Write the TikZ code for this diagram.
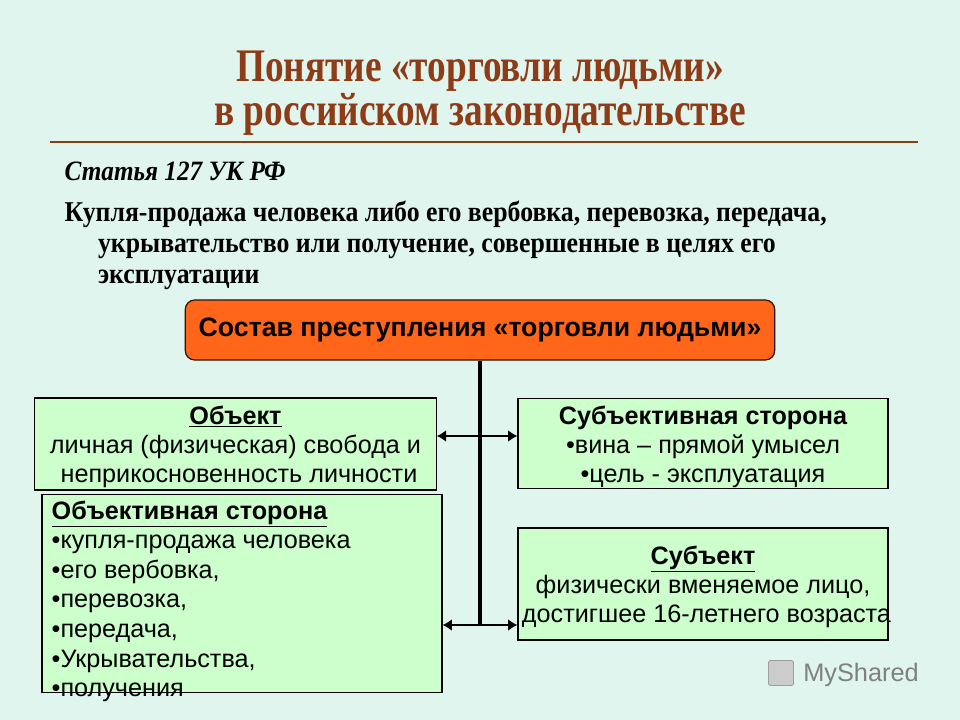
\documentclass[tikz,border=0pt]{standalone}
\usepackage{fontspec}
\setmainfont{Liberation Serif}
\setsansfont{Liberation Sans}
\newfontfamily\cond[FakeStretch=0.8]{Liberation Serif}
\newfontfamily\condb[FakeStretch=0.9]{Liberation Serif}
\usetikzlibrary{arrows.meta}
\definecolor{bg}{HTML}{E0F5EE}
\definecolor{brn}{HTML}{8E3B17}
\definecolor{grn}{HTML}{CCFFCC}
\definecolor{org}{HTML}{FF6619}
\tikzset{
 box/.style={draw=black, fill=grn, line width=0.9pt, inner sep=0pt},
 btxt/.style={font=\sffamily\fontsize{18.9}{21.8}\selectfont, align=center},
 conn/.style={line width=3pt},
 arr/.style={line width=2.2pt, {Latex[length=7pt,width=9pt]}-{Latex[length=7pt,width=9pt]}}
}
\begin{document}
\begin{tikzpicture}[x=0.75pt,y=-0.75pt]
\fill[bg] (0,0) rectangle (960,720);
\useasboundingbox (0,0) rectangle (960,720);
\node[text=brn, font=\cond\bfseries\fontsize{35}{31}\selectfont, align=center] (title) at (480,93) {Понятие «торговли людьми»\\в российском законодательстве};
\coordinate (l1) at (50,142); \coordinate (l2) at (918,142);
\draw[brn, line width=0.8pt] (l1) -- (l2);
\node[anchor=west, font=\condb\bfseries\itshape\fontsize{21}{22}\selectfont] (art) at (60,171) {Статья 127 УК РФ};
\node[anchor=north west, font=\condb\bfseries\fontsize{21.5}{23.5}\selectfont, align=left] (def) at (60,196) {Купля-продажа человека либо его вербовка, перевозка, передача,\\\hspace*{25pt}укрывательство или получение, совершенные в целях его\\\hspace*{25pt}эксплуатации};
\node[draw=black!70!brn, fill=org, rounded corners=7pt, line width=0.9pt, minimum width=442pt, minimum height=45pt, font=\sffamily\bfseries\fontsize{20}{22}\selectfont] (main) at (480,330) {Состав преступления «торговли людьми»};
\node[box, minimum width=301pt, minimum height=69pt] (obj) at (235.5,444) {};
\node[btxt, anchor=north] at (235.5,401) {\textbf{\underline{Объект}}\\личная (физическая) свобода и\\ \ неприкосновенность личности};
\node[box, minimum width=277.5pt, minimum height=68pt] (subj) at (703,443.5) {};
\node[btxt, anchor=north] at (703,401) {\textbf{Субъективная сторона}\\•вина – прямой умысел\\•цель - эксплуатация};
\node[box, minimum width=300pt, minimum height=148pt] (objs) at (242,593.5) {};
\node[btxt, align=left, anchor=north west, font=\sffamily\fontsize{18.9}{22.2}\selectfont] at (47,496) {\textbf{\underline{Объективная сторона}}\\•купля-продажа человека\\•его вербовка,\\•перевозка,\\•передача,\\•Укрывательства,\\•получения};
\node[box, minimum width=277.5pt, minimum height=84pt] (sub) at (703,584) {};
\node[btxt, anchor=north] at (703,541) {\textbf{\underline{Субъект}}\\физически вменяемое лицо,\\ \ достигшее 16-летнего возраста};
\coordinate (top) at (480,360);
\coordinate (bot) at (480,625);
\draw[conn] (main.south -| top) -- (bot);
\draw[arr] (obj.east |- 0,436) -- (subj.west |- 0,436);
\draw[arr] (objs.east |- 0,625) -- (sub.west |- 0,625);
\node[text=gray, font=\sffamily\fontsize{19}{20}\selectfont] (ms) at (861,675) {MyShared};
\node[draw=gray, fill=gray!40, rounded corners=2pt, minimum size=19pt] (ic) at (781,673) {};
\end{tikzpicture}
\end{document}
